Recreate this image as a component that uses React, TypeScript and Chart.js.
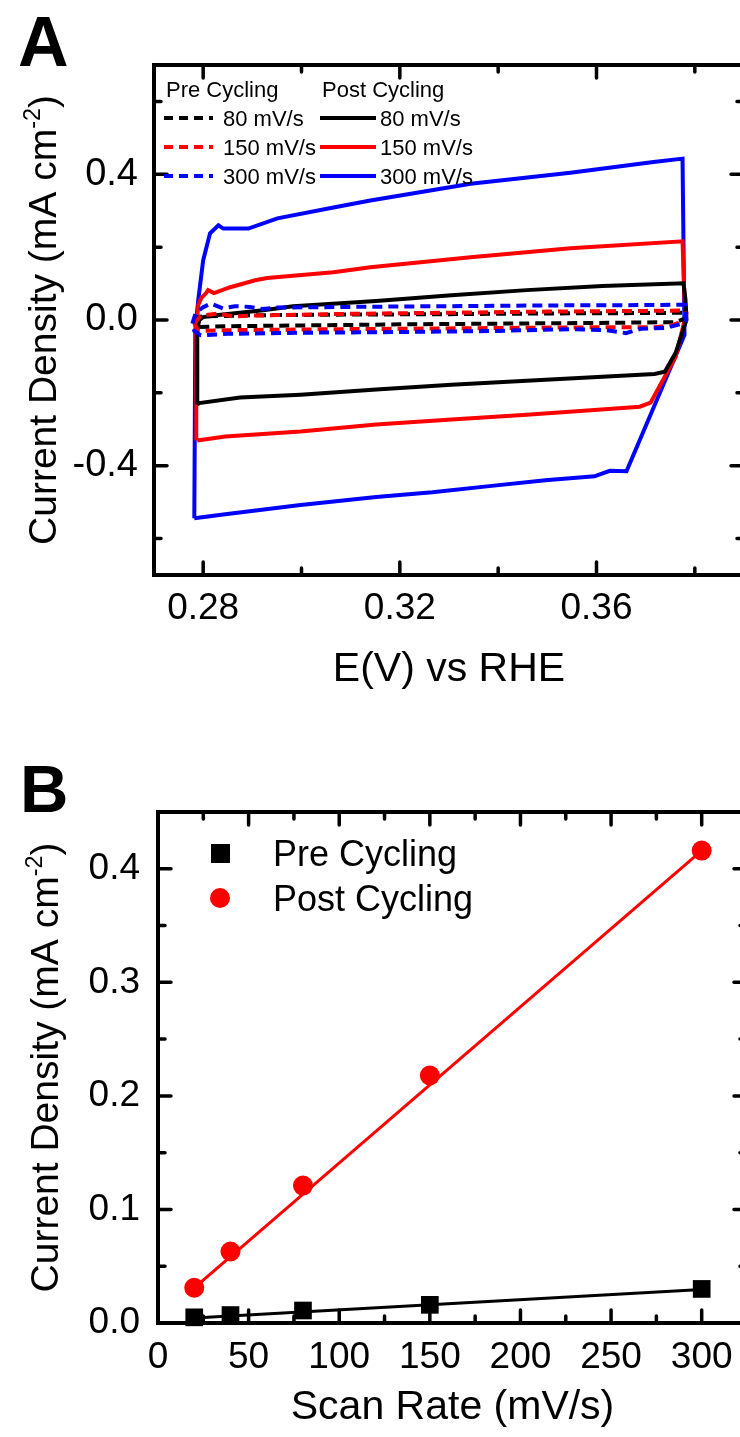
import React, { useEffect, useRef } from "react";
import { Chart, registerables } from "chart.js";

Chart.register(...registerables);

const FONT = "'Liberation Sans', Arial, Helvetica, sans-serif";

// ---------------- Panel A : cyclic voltammograms ----------------
const aXTicks = [0.28, 0.32, 0.36];
const aXMinor = [0.3, 0.34, 0.38];
const aYTicks = [-0.4, 0, 0.4];
const aYMinor = [-0.6, -0.2, 0.2, 0.6];

// Post cycling, 300 mV/s
const post300V = [0.2782, 0.2784, 0.279, 0.28, 0.2814, 0.2831, 0.2841, 0.2892, 0.2951, 0.3065, 0.314, 0.3344, 0.3547, 0.3716, 0.3775, 0.3779, 0.3661, 0.3627, 0.3596, 0.3496, 0.3382, 0.3266, 0.3152, 0.2998, 0.2845, 0.2782];
const post300J = [-0.544, -0.027, 0.055, 0.164, 0.238, 0.26, 0.251, 0.251, 0.279, 0.309, 0.328, 0.374, 0.404, 0.434, 0.443, -0.041, -0.415, -0.414, -0.429, -0.44, -0.456, -0.473, -0.486, -0.508, -0.533, -0.544];
// Post cycling, 150 mV/s
const post150V = [0.2786, 0.2786, 0.279, 0.2796, 0.2806, 0.281, 0.2822, 0.2855, 0.2906, 0.293, 0.3065, 0.314, 0.3344, 0.3547, 0.3775, 0.3779, 0.3783, 0.3761, 0.371, 0.3688, 0.3574, 0.3458, 0.3305, 0.3152, 0.2998, 0.2845, 0.2788];
const post150J = [-0.331, -0.027, 0.041, 0.06, 0.074, 0.082, 0.074, 0.09, 0.109, 0.115, 0.131, 0.145, 0.172, 0.197, 0.216, 0.055, 0.019, -0.101, -0.227, -0.238, -0.249, -0.26, -0.273, -0.287, -0.306, -0.32, -0.331];
// Post cycling, 80 mV/s
const post80V = [0.2788, 0.2788, 0.2792, 0.28, 0.2831, 0.2869, 0.2922, 0.2983, 0.3152, 0.3305, 0.3458, 0.3612, 0.3777, 0.3781, 0.3783, 0.3761, 0.3739, 0.3718, 0.3612, 0.3458, 0.3305, 0.3152, 0.2998, 0.2875, 0.2792, 0.2788];
const post80J = [-0.232, -0.027, 0.0, 0.008, 0.014, 0.019, 0.027, 0.038, 0.052, 0.068, 0.082, 0.093, 0.101, 0.055, 0.0, -0.09, -0.142, -0.148, -0.156, -0.167, -0.178, -0.191, -0.205, -0.213, -0.228, -0.232];
// Pre cycling, 80 mV/s
const pre80V = [0.2782, 0.279, 0.28, 0.29, 0.31, 0.33, 0.35, 0.37, 0.378, 0.3782, 0.376, 0.36, 0.34, 0.32, 0.3, 0.285, 0.279, 0.2782];
const pre80J = [-0.005, 0.008, 0.01, 0.013, 0.015, 0.016, 0.018, 0.019, 0.02, 0.005, -0.006, -0.008, -0.01, -0.012, -0.015, -0.017, -0.019, -0.005];
// Pre cycling, 150 mV/s
const pre150V = [0.2782, 0.2795, 0.283, 0.286, 0.29, 0.31, 0.33, 0.35, 0.37, 0.378, 0.3782, 0.3755, 0.372, 0.36, 0.34, 0.32, 0.3, 0.285, 0.279, 0.2782];
const pre150J = [-0.01, 0.012, 0.018, 0.01, 0.012, 0.017, 0.02, 0.023, 0.025, 0.026, 0.0, -0.014, -0.02, -0.02, -0.022, -0.024, -0.026, -0.028, -0.03, -0.01];
// Pre cycling, 300 mV/s
const pre300V = [0.2778, 0.2785, 0.28, 0.2815, 0.284, 0.2865, 0.2895, 0.292, 0.295, 0.31, 0.33, 0.35, 0.37, 0.378, 0.3782, 0.3775, 0.374, 0.369, 0.366, 0.362, 0.355, 0.34, 0.32, 0.3, 0.285, 0.2795, 0.2782, 0.2778];
const pre300J = [-0.01, 0.02, 0.035, 0.045, 0.032, 0.038, 0.036, 0.03, 0.034, 0.036, 0.038, 0.04, 0.041, 0.042, 0.0, -0.01, -0.022, -0.024, -0.036, -0.028, -0.025, -0.03, -0.033, -0.035, -0.038, -0.042, -0.03, -0.01];

const rateLabels = ["80 mV/s", "150 mV/s", "300 mV/s"];
const rateColors = ["#000000", "#ff0000", "#0000ff"];

// ---------------- Panel B : scan-rate dependence ----------------
const scanRates = [20, 40, 80, 150, 300];
const preCycling = [0.005, 0.007, 0.011, 0.016, 0.03];
const postCycling = [0.031, 0.063, 0.121, 0.218, 0.416];
const fitX = [20, 300];
const preFit = [0.0045, 0.0295];
const postFit = [0.031, 0.416];
const bXTicks = [0, 50, 100, 150, 200, 250, 300];
const bXMinor = [25, 75, 125, 175, 225, 275];
const bYTicks = [0, 0.1, 0.2, 0.3, 0.4];
const bYMinor = [0.05, 0.15, 0.25, 0.35];

const zip = (xs: number[], ys: number[]) => xs.map((x, i) => ({ x, y: ys[i] }));

const framePlugin = {
  id: "frame",
  afterDatasetsDraw(chart: any, _a: any, opts: any) {
    const { ctx, chartArea } = chart;
    const { left, right, top, bottom } = chartArea;
    const xs = chart.scales.x;
    const ys = chart.scales.y;
    ctx.save();
    ctx.strokeStyle = "#000";
    ctx.lineCap = "round";
    ctx.lineWidth = opts.tickWidth;
    const vTicks = (vals: number[], len: number) => {
      vals.forEach((v) => {
        const p = xs.getPixelForValue(v);
        ctx.beginPath();
        ctx.moveTo(p, bottom);
        ctx.lineTo(p, bottom - len);
        ctx.moveTo(p, top);
        ctx.lineTo(p, top + len);
        ctx.stroke();
      });
    };
    const hTicks = (vals: number[], len: number) => {
      vals.forEach((v) => {
        const p = ys.getPixelForValue(v);
        ctx.beginPath();
        ctx.moveTo(left, p);
        ctx.lineTo(left + len, p);
        ctx.moveTo(right, p);
        ctx.lineTo(right - len, p);
        ctx.stroke();
      });
    };
    vTicks(opts.xMajor, opts.majorLen);
    vTicks(opts.xMinor, opts.minorLen);
    hTicks(opts.yMajor, opts.majorLen);
    hTicks(opts.yMinor, opts.minorLen);
    ctx.lineCap = "butt";
    ctx.lineJoin = "miter";
    ctx.lineWidth = opts.frameWidth;
    ctx.strokeRect(left, top, right - left, bottom - top);
    ctx.restore();
  },
};

function drawYTitle(ctx: CanvasRenderingContext2D, cx: number, cy: number, fs: number) {
  const main = "Current Density (mA cm";
  const sup = "-2";
  const close = ")";
  const sfs = fs * 0.6;
  ctx.save();
  ctx.fillStyle = "#000";
  ctx.translate(cx, cy);
  ctx.rotate(-Math.PI / 2);
  ctx.textBaseline = "alphabetic";
  ctx.textAlign = "left";
  ctx.font = `${fs}px ${FONT}`;
  const w1 = ctx.measureText(main).width;
  const w3 = ctx.measureText(close).width;
  ctx.font = `${sfs}px ${FONT}`;
  const w2 = ctx.measureText(sup).width;
  const x0 = -(w1 + w2 + w3) / 2;
  const base = fs * 0.358;
  ctx.font = `${fs}px ${FONT}`;
  ctx.fillText(main, x0, base);
  ctx.fillText(close, x0 + w1 + w2, base);
  ctx.font = `${sfs}px ${FONT}`;
  ctx.fillText(sup, x0 + w1, base - fs * 0.42);
  ctx.restore();
}

function drawLetter(ctx: CanvasRenderingContext2D, letter: string, x: number, y: number, fs: number) {
  ctx.save();
  ctx.fillStyle = "#000";
  ctx.font = `bold ${fs}px ${FONT}`;
  ctx.textBaseline = "alphabetic";
  ctx.textAlign = "left";
  ctx.fillText(letter, x, y);
  ctx.restore();
}

const decorA = {
  id: "decorA",
  afterDraw(chart: any) {
    const ctx: CanvasRenderingContext2D = chart.ctx;
    drawLetter(ctx, "A", 18, 66, 70);
    drawYTitle(ctx, 42, (chart.chartArea.top + chart.chartArea.bottom) / 2, 39);
    // two-column legend
    ctx.save();
    ctx.fillStyle = "#000";
    ctx.font = `22px ${FONT}`;
    ctx.textBaseline = "alphabetic";
    ctx.textAlign = "left";
    ctx.fillText("Pre Cycling", 166, 97);
    ctx.fillText("Post Cycling", 322, 97);
    const rowY = [118, 147, 176];
    rowY.forEach((ry, i) => {
      ctx.lineWidth = 4;
      ctx.strokeStyle = rateColors[i];
      ctx.setLineDash([9, 6]);
      ctx.beginPath();
      ctx.moveTo(164, ry);
      ctx.lineTo(213, ry);
      ctx.stroke();
      ctx.setLineDash([]);
      ctx.beginPath();
      ctx.moveTo(320, ry);
      ctx.lineTo(376, ry);
      ctx.stroke();
      ctx.fillStyle = "#000";
      ctx.fillText(rateLabels[i], 223, ry + 8);
      ctx.fillText(rateLabels[i], 380, ry + 8);
    });
    ctx.restore();
  },
};

const decorB = {
  id: "decorB",
  afterDraw(chart: any) {
    const ctx: CanvasRenderingContext2D = chart.ctx;
    drawLetter(ctx, "B", 20, 92, 67);
    drawYTitle(ctx, 44, (chart.chartArea.top + chart.chartArea.bottom) / 2, 39);
    ctx.save();
    ctx.fillStyle = "#000";
    ctx.fillRect(211, 124, 19, 19);
    ctx.fillStyle = "#ff0000";
    ctx.beginPath();
    ctx.arc(220, 178, 10, 0, Math.PI * 2);
    ctx.fill();
    ctx.fillStyle = "#000";
    ctx.font = `36px ${FONT}`;
    ctx.textBaseline = "alphabetic";
    ctx.textAlign = "left";
    ctx.fillText("Pre Cycling", 273, 146);
    ctx.fillText("Post Cycling", 273, 191);
    ctx.restore();
  },
};

function cvDataset(v: number[], j: number[], color: string, dashed: boolean) {
  return {
    data: zip(v, j),
    borderColor: color,
    backgroundColor: color,
    borderWidth: 4,
    borderDash: dashed ? [10, 6] : [],
    pointRadius: 0,
    tension: 0,
    fill: false,
  };
}

export default function App() {
  const refA = useRef<HTMLCanvasElement>(null);
  const refB = useRef<HTMLCanvasElement>(null);

  useEffect(() => {
    Chart.defaults.font.family = FONT;
    Chart.defaults.color = "#000";

    const chartA = new Chart(refA.current as HTMLCanvasElement, {
      type: "line",
      data: {
        datasets: [
          cvDataset(pre300V, pre300J, rateColors[2], true),
          cvDataset(pre150V, pre150J, rateColors[1], true),
          cvDataset(pre80V, pre80J, rateColors[0], true),
          cvDataset(post80V, post80J, rateColors[0], false),
          cvDataset(post150V, post150J, rateColors[1], false),
          cvDataset(post300V, post300J, rateColors[2], false),
        ] as any,
      },
      options: {
        animation: false,
        responsive: false,
        devicePixelRatio: 1,
        layout: { padding: { left: 0, right: 16, top: 65, bottom: 0 } },
        plugins: {
          legend: { display: false },
          tooltip: { enabled: false },
          frame: { xMajor: aXTicks, xMinor: aXMinor, yMajor: aYTicks, yMinor: aYMinor, majorLen: 13, minorLen: 7, tickWidth: 3.5, frameWidth: 4 },
        } as any,
        scales: {
          x: {
            type: "linear",
            min: 0.27,
            max: 0.39,
            grid: { display: false, drawTicks: false },
            border: { display: false },
            afterBuildTicks: (s: any) => {
              s.ticks = aXTicks.map((value) => ({ value }));
            },
            afterFit: (s: any) => {
              s.height = 145;
            },
            ticks: { font: { size: 37 }, color: "#000", padding: 12, maxRotation: 0, autoSkip: false, callback: (v: any) => Number(v).toFixed(2) },
            title: { display: true, text: "E(V) vs RHE", font: { size: 41 }, color: "#000", padding: { top: 0, bottom: 26 } },
          },
          y: {
            type: "linear",
            min: -0.7,
            max: 0.7,
            grid: { display: false, drawTicks: false },
            border: { display: false },
            afterBuildTicks: (s: any) => {
              s.ticks = aYTicks.map((value) => ({ value }));
            },
            afterFit: (s: any) => {
              s.width = 154;
            },
            ticks: { font: { size: 38 }, color: "#000", padding: 16, autoSkip: false, callback: (v: any) => Number(v).toFixed(1) },
          },
        } as any,
      },
      plugins: [framePlugin, decorA],
    });

    const chartB = new Chart(refB.current as HTMLCanvasElement, {
      type: "line",
      data: {
        datasets: [
          {
            data: zip(scanRates, preCycling),
            showLine: false,
            pointStyle: "rect",
            pointRadius: 12.5,
            pointBackgroundColor: "#000",
            pointBorderColor: "#000",
            pointBorderWidth: 0,
          },
          {
            data: zip(scanRates, postCycling),
            showLine: false,
            pointStyle: "circle",
            pointRadius: 10,
            pointBackgroundColor: "#ff0000",
            pointBorderColor: "#ff0000",
            pointBorderWidth: 0,
          },
          { data: zip(fitX, preFit), borderColor: "#000", borderWidth: 3, pointRadius: 0, tension: 0 },
          { data: zip(fitX, postFit), borderColor: "#ff0000", borderWidth: 3, pointRadius: 0, tension: 0 },
        ] as any,
      },
      options: {
        animation: false,
        responsive: false,
        devicePixelRatio: 1,
        clip: false as any,
        layout: { padding: { left: 0, right: 23, top: 92, bottom: 0 } },
        plugins: {
          legend: { display: false },
          tooltip: { enabled: false },
          frame: { xMajor: bXTicks, xMinor: bXMinor, yMajor: bYTicks, yMinor: bYMinor, majorLen: 13, minorLen: 7, tickWidth: 3.5, frameWidth: 4 },
        } as any,
        scales: {
          x: {
            type: "linear",
            min: 0,
            max: 325,
            grid: { display: false, drawTicks: false },
            border: { display: false },
            afterBuildTicks: (s: any) => {
              s.ticks = bXTicks.map((value) => ({ value }));
            },
            afterFit: (s: any) => {
              s.height = 114;
            },
            ticks: { font: { size: 37 }, color: "#000", padding: 13, maxRotation: 0, autoSkip: false, callback: (v: any) => String(Number(v)) },
            title: { display: true, text: "Scan Rate (mV/s)", font: { size: 41 }, color: "#000", padding: { top: 0, bottom: 5 } },
          },
          y: {
            type: "linear",
            min: 0,
            max: 0.45,
            grid: { display: false, drawTicks: false },
            border: { display: false },
            afterBuildTicks: (s: any) => {
              s.ticks = bYTicks.map((value) => ({ value }));
            },
            afterFit: (s: any) => {
              s.width = 158;
            },
            ticks: { font: { size: 37 }, color: "#000", padding: 18, autoSkip: false, callback: (v: any) => Number(v).toFixed(1) },
          },
        } as any,
      },
      plugins: [framePlugin, decorB],
    });

    return () => {
      chartA.destroy();
      chartB.destroy();
    };
  }, []);

  return (
    <div style={{ position: "absolute", left: 0, top: 0, width: 740, height: 1437, overflow: "hidden", background: "#fff" }}>
      <canvas ref={refA} width={760} height={720} style={{ position: "absolute", left: 0, top: 0, width: 760, height: 720 }} />
      <canvas ref={refB} width={770} height={717} style={{ position: "absolute", left: 0, top: 720, width: 770, height: 717 }} />
    </div>
  );
}
